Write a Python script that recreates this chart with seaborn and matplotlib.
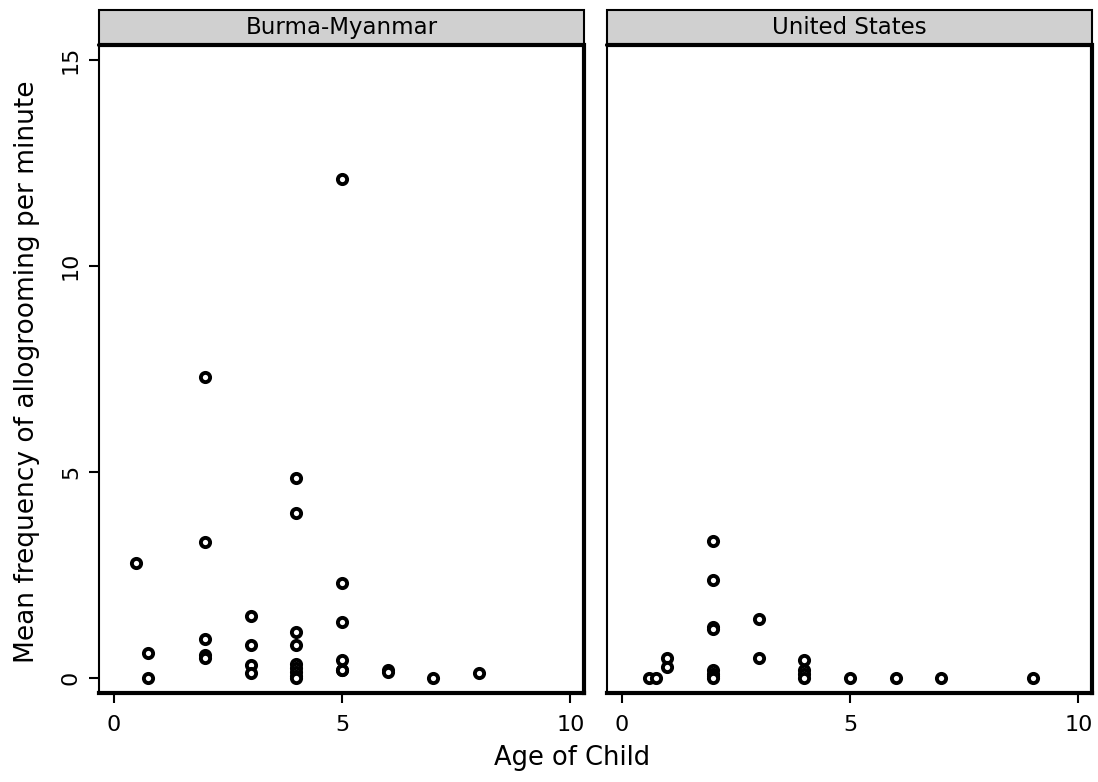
import matplotlib
matplotlib.use("Agg")
import matplotlib.pyplot as plt
import seaborn as sns
import pandas as pd
from matplotlib.patches import Rectangle

sns.set_theme(style="white")
plt.rcParams['font.family'] = ['DejaVu Sans']
plt.rcParams['text.color'] = 'black'
plt.rcParams['xtick.color'] = 'black'
plt.rcParams['ytick.color'] = 'black'

# Burma-Myanmar panel
burma_age = [0.5, 0.75, 0.75, 2, 2, 2, 2, 2,
             3, 3, 3, 3,
             4, 4, 4, 4, 4, 4, 4, 4, 4,
             5, 5, 5, 5, 5, 5,
             6, 6, 7, 8]
burma_freq = [2.8, 0.6, 0.0, 7.3, 3.3, 0.95, 0.55, 0.5,
              1.5, 0.8, 0.32, 0.12,
              4.85, 4.0, 1.12, 0.8, 0.35, 0.25, 0.15, 0.05, 0.0,
              12.1, 2.3, 1.37, 0.45, 0.2, 0.19,
              0.2, 0.15, 0.0, 0.13]

# United States panel
us_age = [0.6, 0.75, 1, 1,
          2, 2, 2, 2, 2, 2, 2, 2,
          3, 3,
          4, 4, 4, 4,
          5, 6, 7, 9]
us_freq = [0.0, 0.0, 0.5, 0.27,
           3.33, 2.38, 1.25, 1.2, 0.2, 0.1, 0.05, 0.0,
           1.43, 0.49,
           0.44, 0.2, 0.1, 0.0,
           0.0, 0.0, 0.0, 0.0]

panels = ["Burma-Myanmar", "United States"]
x_ticks = [0, 5, 10]
y_ticks = [0, 5, 10, 15]

df = pd.concat([
    pd.DataFrame({"age": burma_age, "freq": burma_freq, "country": panels[0]}),
    pd.DataFrame({"age": us_age, "freq": us_freq, "country": panels[1]}),
])

fig = plt.figure(figsize=(10.98, 7.82), dpi=100)
W, H = 1098, 782
bottom = 1 - 693 / H
top = 1 - 45 / H
strip_h = 35 / H
lefts = [99 / W, 607 / W]
widths = [485 / W, 485 / W]

for i, name in enumerate(panels):
    ax = fig.add_axes([lefts[i], bottom, widths[i], top - bottom])
    sub = df[df["country"] == name]
    sns.scatterplot(data=sub, x="age", y="freq", ax=ax, marker="o", s=44,
                    facecolor="white", edgecolor="black", linewidth=2.8,
                    legend=False, zorder=3, clip_on=False)
    ax.set_xlim(-0.32, 10.3)
    ax.set_ylim(-0.36, 15.36)
    ax.set_xticks(x_ticks)
    ax.set_xticklabels([str(t) for t in x_ticks])
    ax.set_yticks(y_ticks)
    ax.tick_params(axis="x", direction="out", length=7, width=1.5, pad=9,
                   bottom=True, labelsize=16)
    ax.tick_params(axis="y", direction="out", length=7, width=1.5, pad=6,
                   left=(i == 0), labelsize=16)
    if i == 0:
        ax.set_yticklabels([str(t) for t in y_ticks], rotation=90, va="center")
    else:
        ax.set_yticklabels([])
    ax.set_ylabel("")
    ax.set_xlabel("")
    for s in ax.spines.values():
        s.set_color("black")
        s.set_linewidth(1.5)
    ax.spines["bottom"].set_linewidth(3)
    ax.spines["right"].set_linewidth(3)
    # strip
    rect = Rectangle((lefts[i], top), widths[i], strip_h, transform=fig.transFigure,
                     facecolor="#d0d0d0", edgecolor="black", linewidth=1.5)
    fig.patches.append(rect)
    fig.add_artist(plt.Line2D([lefts[i], lefts[i] + widths[i]], [top, top],
                              transform=fig.transFigure, color="black", linewidth=3))
    fig.text(lefts[i] + widths[i] / 2, top + strip_h / 2, name, ha="center",
             va="center", fontsize=16.5)

fig.text(572 / W, 1 - 758 / H, "Age of Child", ha="center", va="center", fontsize=18.5)
fig.text(27 / W, 1 - 372 / H, "Mean frequency of allogrooming per minute",
         ha="center", va="center", rotation=90, fontsize=19)

fig.savefig("out.png", dpi=100, facecolor="white")
